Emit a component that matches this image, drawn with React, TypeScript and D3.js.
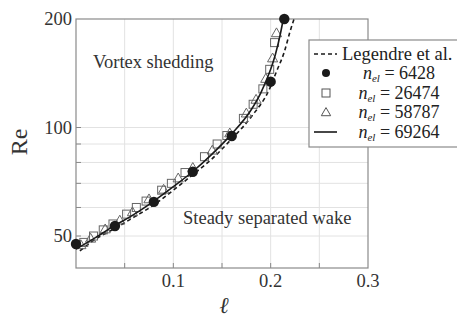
import React, { useRef, useEffect } from 'react';
import * as d3 from 'd3';

// Legendre et al. reference curve
const legendreL = [0.004, 0.02, 0.04, 0.06, 0.08, 0.1, 0.12, 0.14, 0.16, 0.18, 0.2, 0.206, 0.214, 0.22, 0.224];
const legendreRe = [45.5, 49, 52.5, 56.5, 61, 67, 74, 82, 93, 107, 130, 143, 162, 185, 200];

// n_el = 6428 (filled circles)
const c6428L = [0, 0.04, 0.08, 0.12, 0.16, 0.2, 0.214];
const c6428Re = [47.5, 53.3, 62.2, 75.4, 94.7, 134, 200];

// n_el = 26474 (open squares)
const s26474L = [0.008, 0.018, 0.028, 0.038, 0.052, 0.062, 0.072, 0.088, 0.098, 0.112, 0.132, 0.145, 0.155, 0.172, 0.182, 0.192, 0.199, 0.204];
const s26474Re = [48, 50, 52, 54, 57.5, 60, 62.5, 67, 70, 75, 83, 90, 95, 106, 116, 128, 145, 172];

// n_el = 58787 (open triangles)
const t58787L = [0.005, 0.015, 0.03, 0.045, 0.058, 0.075, 0.09, 0.105, 0.12, 0.14, 0.158, 0.175, 0.185, 0.195, 0.202, 0.206];
const t58787Re = [47, 49, 52, 55, 58, 63, 67, 72, 77, 86, 96, 109, 119, 136, 155, 182];

// n_el = 69264 (solid line)
const l69264L = [0, 0.02, 0.04, 0.06, 0.08, 0.1, 0.12, 0.14, 0.16, 0.18, 0.19, 0.2, 0.205, 0.21, 0.213];
const l69264Re = [46, 49.5, 53.5, 57.5, 62.5, 68.5, 75.5, 84.5, 96, 112, 125, 145, 160, 182, 200];

const xTicks = [0.1, 0.2, 0.3];
const xGrid = [0.05, 0.1, 0.15, 0.2, 0.25];
const yTicks = [50, 100, 200];
const yGrid = [50, 60, 70, 80, 90, 100];
const legendLabels = ['6428', '26474', '58787', '69264'];

const zip = (xs: number[], ys: number[]) => xs.map((x, i) => [x, ys[i]] as [number, number]);

function ReChart({ width = 457, height = 318 }) {
  const ref = useRef<SVGSVGElement>(null);

  useEffect(() => {
    const svg = d3.select(ref.current);
    svg.selectAll('*').remove();

    const margin = { top: 19, right: 89, bottom: 50, left: 76 };
    const x = d3.scaleLinear().domain([0, 0.3]).range([margin.left, width - margin.right]);
    const y = d3.scaleLog().domain([40.76, 200]).range([height - margin.bottom, margin.top]);
    const font = "'Liberation Serif', 'Times New Roman', serif";
    const ink = '#1a1a1a';

    // grid
    const grid = svg.append('g').attr('stroke', '#e2e2e2').attr('stroke-width', 1);
    grid.selectAll('line.v').data(xGrid).enter().append('line')
      .attr('x1', (d) => x(d)).attr('x2', (d) => x(d))
      .attr('y1', y.range()[0]).attr('y2', y.range()[1]);
    grid.selectAll('line.h').data(yGrid).enter().append('line')
      .attr('x1', x.range()[0]).attr('x2', x.range()[1])
      .attr('y1', (d) => y(d)).attr('y2', (d) => y(d));

    // ticks inward
    const ticks = svg.append('g').attr('stroke', '#888').attr('stroke-width', 1);
    ticks.selectAll('line.xt').data(xGrid).enter().append('line')
      .attr('x1', (d) => x(d)).attr('x2', (d) => x(d))
      .attr('y1', y.range()[0]).attr('y2', y.range()[0] - 5);
    ticks.selectAll('line.yt').data(yGrid).enter().append('line')
      .attr('x1', x.range()[0]).attr('x2', x.range()[0] + 5)
      .attr('y1', (d) => y(d)).attr('y2', (d) => y(d));

    // frame
    svg.append('rect')
      .attr('x', x.range()[0]).attr('y', y.range()[1])
      .attr('width', x.range()[1] - x.range()[0])
      .attr('height', y.range()[0] - y.range()[1])
      .attr('fill', 'none').attr('stroke', '#8a8a8a').attr('stroke-width', 1.2);

    // tick labels
    svg.append('g').selectAll('text').data(xTicks).enter().append('text')
      .attr('x', (d) => x(d)).attr('y', height - margin.bottom + 19)
      .attr('text-anchor', 'middle').attr('font-family', font).attr('font-size', 18.5)
      .attr('fill', '#333').text((d) => d3.format('.1f')(d));
    svg.append('g').selectAll('text').data(yTicks).enter().append('text')
      .attr('x', margin.left - 4).attr('y', (d) => y(d) + 6)
      .attr('text-anchor', 'end').attr('font-family', font).attr('font-size', 18.5)
      .attr('fill', '#333').text((d) => d);

    // axis titles
    svg.append('text')
      .attr('transform', 'translate(27,142) rotate(-90)')
      .attr('text-anchor', 'middle').attr('font-family', font).attr('font-size', 24)
      .attr('fill', '#333').text('Re');
    svg.append('text')
      .attr('x', 224).attr('y', 313)
      .attr('text-anchor', 'middle').attr('font-family', "'DejaVu Serif', serif")
      .attr('font-style', 'italic').attr('font-size', 23)
      .attr('fill', '#333').text('ℓ');

    // region labels
    svg.append('text').attr('x', 93).attr('y', 68)
      .attr('font-family', font).attr('font-size', 18.5).attr('fill', '#333').text('Vortex shedding');
    svg.append('text').attr('x', 183).attr('y', 224)
      .attr('font-family', font).attr('font-size', 18.5).attr('fill', '#333').text('Steady separated wake');

    const line = d3.line<[number, number]>().curve(d3.curveMonotoneX).x((d) => x(d[0])).y((d) => y(d[1]));

    // Legendre dashed
    svg.append('path').datum(zip(legendreL, legendreRe))
      .attr('d', line).attr('fill', 'none').attr('stroke', ink)
      .attr('stroke-width', 1.6).attr('stroke-dasharray', '4,3');

    // squares
    svg.append('g').selectAll('rect').data(zip(s26474L, s26474Re)).enter().append('rect')
      .attr('x', (d) => x(d[0]) - 4).attr('y', (d) => y(d[1]) - 4)
      .attr('width', 8).attr('height', 8)
      .attr('fill', 'none').attr('stroke', '#666').attr('stroke-width', 1);

    // triangles
    const tri = d3.symbol().type(d3.symbolTriangle).size(45);
    svg.append('g').selectAll('path').data(zip(t58787L, t58787Re)).enter().append('path')
      .attr('d', tri).attr('transform', (d) => `translate(${x(d[0])},${y(d[1])})`)
      .attr('fill', 'none').attr('stroke', '#666').attr('stroke-width', 1);

    // solid line
    svg.append('path').datum(zip(l69264L, l69264Re))
      .attr('d', line).attr('fill', 'none').attr('stroke', ink).attr('stroke-width', 1.6);

    // circles
    svg.append('g').selectAll('circle').data(zip(c6428L, c6428Re)).enter().append('circle')
      .attr('cx', (d) => x(d[0])).attr('cy', (d) => y(d[1])).attr('r', 5.2)
      .attr('fill', ink);

    // legend
    const lg = svg.append('g');
    lg.append('rect').attr('x', 309).attr('y', 40).attr('width', 160).attr('height', 107)
      .attr('fill', 'white').attr('stroke', '#8a8a8a').attr('stroke-width', 1.2);
    lg.append('line').attr('x1', 314).attr('x2', 337).attr('y1', 54).attr('y2', 54)
      .attr('stroke', ink).attr('stroke-width', 1.6).attr('stroke-dasharray', '4,3');
    lg.append('text').attr('x', 342).attr('y', 60).attr('font-family', font)
      .attr('font-size', 18.5).attr('fill', '#222').text('Legendre et al.');

    const rowY = [73, 93, 112, 132];
    lg.append('circle').attr('cx', 326).attr('cy', rowY[0]).attr('r', 4).attr('fill', ink);
    lg.append('rect').attr('x', 322).attr('y', rowY[1] - 4).attr('width', 8).attr('height', 8)
      .attr('fill', 'none').attr('stroke', '#555');
    lg.append('path').attr('d', d3.symbol().type(d3.symbolTriangle).size(38))
      .attr('transform', `translate(326,${rowY[2] + 1})`).attr('fill', 'none').attr('stroke', '#555');
    lg.append('line').attr('x1', 314).attr('x2', 337).attr('y1', rowY[3]).attr('y2', rowY[3])
      .attr('stroke', ink).attr('stroke-width', 1.6);

    legendLabels.forEach((lab, i) => {
      const t = lg.append('text').attr('x', 399).attr('y', rowY[i] + 6)
        .attr('text-anchor', 'middle').attr('font-family', font).attr('font-size', 18).attr('fill', '#222');
      t.append('tspan').attr('font-style', 'italic').text('n');
      t.append('tspan').attr('font-style', 'italic').attr('font-size', 11).attr('dy', 3).text('el');
      t.append('tspan').attr('dy', -3).text(` = ${lab}`);
    });
  }, [width, height]);

  return (
    <svg ref={ref} width={width} height={height}
      style={{ position: 'absolute', left: 0, top: 0, background: 'white' }} />
  );
}

export default function App() {
  return <ReChart />;
}
